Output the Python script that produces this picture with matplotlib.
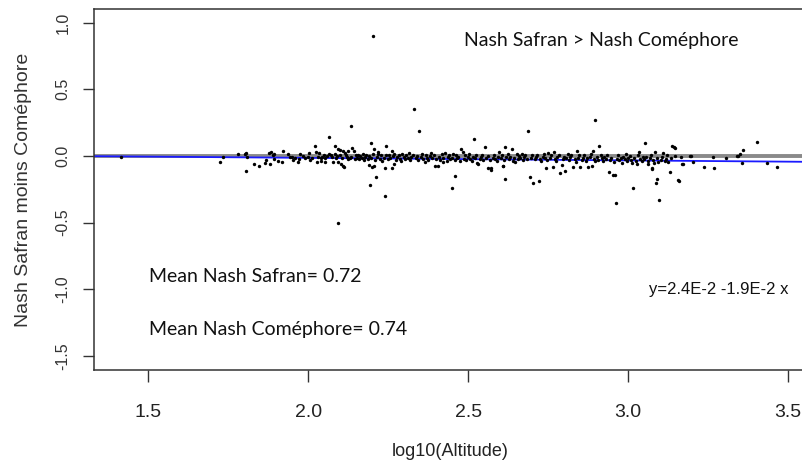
import matplotlib
matplotlib.use("Agg")
import numpy as np
import matplotlib.pyplot as plt

# log10(altitude) and Nash Safran - Nash Comephore
alt_left = [1.415, 1.726, 1.735, 1.782, 1.803, 1.805, 1.81, 1.805, 1.832, 1.847, 1.864, 1.868,
            1.879, 1.884, 1.889, 1.895, 1.88, 1.895, 1.905, 1.92, 1.923, 1.936, 1.942, 1.949,
            1.952, 1.959, 1.968, 1.972, 1.976, 1.983, 1.99, 1.999]
dif_left = [-0.01, -0.047, -0.01, 0.013, 0.013, 0.02, -0.005, -0.11, -0.06, -0.075, -0.05, -0.027,
            0.02, 0.027, 0.008, 0.017, -0.062, -0.02, -0.035, -0.042, 0.035, 0.013, -0.005, -0.01,
            -0.03, -0.018, -0.042, -0.022, 0.017, 0.0, -0.018, -0.008]

alt_200 = [2.003, 2.007, 2.013, 2.022, 2.025, 2.03, 2.029, 2.035, 2.041, 2.041, 2.045, 2.049,
           2.053, 2.053, 2.058, 2.064, 2.066, 2.072, 2.076, 2.079, 2.083, 2.084, 2.088, 2.09,
           2.092, 2.092, 2.095, 2.1, 2.1, 2.103, 2.105, 2.108, 2.108, 2.113, 2.115, 2.118,
           2.121, 2.124, 2.126, 2.131, 2.134, 2.135, 2.137, 2.142, 2.146, 2.149]
dif_200 = [0.022, -0.03, -0.012, 0.072, 0.032, -0.005, -0.047, 0.022, -0.018, -0.037, -0.005, 0.008,
           -0.018, -0.042, 0.0, 0.14, 0.013, 0.005, -0.01, -0.042, 0.012, 0.077, -0.018, -0.002,
           0.052, -0.505, -0.047, 0.045, 0.008, -0.06, -0.015, 0.037, -0.073, -0.08, 0.02, 0.01,
           -0.005, -0.025, 0.04, -0.018, 0.225, -0.008, 0.057, 0.037, -0.02, 0.005]

alt_215 = [2.152, 2.156, 2.16, 2.163, 2.167, 2.171, 2.175, 2.178, 2.182, 2.186, 2.189, 2.19,
           2.194, 2.196, 2.198, 2.2, 2.202, 2.203, 2.207, 2.207, 2.21, 2.212, 2.214, 2.217,
           2.22, 2.224, 2.228, 2.232, 2.236, 2.24, 2.24, 2.244, 2.245, 2.249, 2.253, 2.257,
           2.261, 2.261, 2.265, 2.267, 2.27, 2.274, 2.278, 2.283, 2.287, 2.291, 2.295, 2.299]
dif_215 = [-0.012, 0.01, -0.025, 0.002, -0.018, 0.015, -0.03, -0.005, 0.008, -0.022, -0.068, 0.003,
           -0.217, 0.1, -0.015, -0.08, 0.9, 0.012, 0.052, -0.075, -0.028, -0.16, -0.008, 0.032,
           0.018, -0.02, 0.004, -0.035, -0.012, -0.3, -0.092, 0.077, 0.006, -0.025, 0.01, -0.015,
           0.037, -0.088, -0.002, -0.062, 0.012, -0.028, -0.01, 0.005, -0.02, -0.04, 0.015, -0.008]

alt_230 = [2.303, 2.307, 2.311, 2.315, 2.319, 2.323, 2.327, 2.332, 2.336, 2.34, 2.344, 2.348,
           2.352, 2.356, 2.36, 2.364, 2.368, 2.372, 2.376, 2.38, 2.384, 2.388, 2.392, 2.397,
           2.401, 2.405, 2.409, 2.413, 2.417, 2.421, 2.423, 2.428, 2.433, 2.437, 2.441, 2.445]
dif_230 = [-0.022, 0.004, -0.012, 0.02, -0.03, -0.006, 0.008, 0.35, -0.018, 0.002, -0.028, 0.185,
           -0.01, 0.012, -0.02, -0.045, 0.006, -0.014, -0.03, 0.0, 0.025, -0.018, 0.01, -0.075,
           -0.022, -0.073, -0.004, -0.03, 0.012, -0.015, -0.042, 0.02, -0.037, -0.008, 0.01, -0.025]

alt_245 = [2.449, 2.451, 2.454, 2.458, 2.46, 2.462, 2.466, 2.47, 2.474, 2.478, 2.483, 2.487,
           2.491, 2.495, 2.499, 2.503, 2.507, 2.511, 2.515, 2.517, 2.521, 2.524, 2.527, 2.532,
           2.536, 2.54, 2.544, 2.548, 2.553, 2.557, 2.561, 2.563, 2.567, 2.571, 2.573, 2.577,
           2.581, 2.585, 2.589, 2.593, 2.597]
dif_245 = [-0.012, -0.238, 0.012, -0.03, -0.148, 0.004, -0.018, -0.006, -0.035, 0.052, 0.027, -0.02,
           0.008, -0.028, -0.01, 0.015, -0.022, -0.04, -0.005, 0.13, -0.018, 0.01, -0.05, -0.062,
           -0.025, -0.008, 0.006, -0.032, 0.07, -0.015, 0.002, -0.092, -0.028, -0.092, -0.105, -0.012,
           0.008, -0.02, -0.04, -0.005, 0.032]

alt_260 = [2.602, 2.606, 2.61, 2.61, 2.613, 2.616, 2.616, 2.62, 2.624, 2.628, 2.632, 2.636,
           2.64, 2.644, 2.647, 2.652, 2.656, 2.66, 2.663, 2.667, 2.671, 2.675, 2.679, 2.683,
           2.688, 2.692, 2.696, 2.7, 2.704, 2.708, 2.712, 2.716, 2.721, 2.725, 2.729, 2.733,
           2.737, 2.741, 2.744, 2.748, 2.751]
dif_260 = [-0.015, 0.005, -0.073, -0.075, -0.03, 0.07, -0.172, -0.01, 0.012, -0.022, -0.004, 0.055,
           -0.035, -0.016, -0.042, 0.013, -0.025, 0.002, -0.012, 0.013, -0.03, -0.008, 0.01, -0.02,
           0.187, -0.155, -0.014, 0.004, -0.2, -0.026, -0.01, 0.008, -0.187, -0.022, -0.04, -0.006,
           0.012, -0.018, -0.092, -0.03, 0.02]

alt_275 = [2.755, 2.759, 2.764, 2.767, 2.771, 2.775, 2.779, 2.783, 2.788, 2.793, 2.797, 2.801,
           2.803, 2.807, 2.811, 2.815, 2.819, 2.823, 2.829, 2.833, 2.837, 2.84, 2.844, 2.848,
           2.85, 2.855, 2.859, 2.863, 2.867, 2.871, 2.876, 2.88, 2.884, 2.886, 2.889, 2.893,
           2.897, 2.898]
dif_275 = [-0.012, 0.004, -0.08, 0.027, -0.02, -0.035, -0.008, 0.01, -0.125, -0.068, -0.025, -0.004,
           -0.11, -0.016, 0.012, -0.03, -0.01, 0.006, -0.08, -0.022, -0.042, 0.037, -0.012, 0.004,
           -0.085, -0.028, -0.014, 0.008, -0.035, -0.018, -0.085, -0.006, 0.014, -0.075, 0.04, -0.022,
           -0.04, 0.27]

alt_290 = [2.902, 2.906, 2.91, 2.914, 2.918, 2.922, 2.926, 2.93, 2.934, 2.939, 2.943, 2.947,
           2.952, 2.956, 2.96, 2.961, 2.965, 2.969, 2.973, 2.977, 2.981, 2.985, 2.989, 2.993,
           2.997, 3.001, 3.005, 3.009, 3.013, 3.016, 3.02, 3.024, 3.027, 3.031, 3.034, 3.038,
           3.042, 3.046]
dif_290 = [-0.01, -0.028, 0.077, 0.006, -0.018, -0.036, -0.005, -0.024, 0.01, -0.122, -0.03, -0.012,
           -0.142, -0.045, -0.142, -0.355, -0.02, 0.004, -0.032, -0.014, -0.05, -0.008, -0.026, 0.012,
           -0.038, -0.018, -0.002, -0.03, -0.055, -0.243, -0.012, -0.034, -0.062, 0.004, 0.027, -0.022,
           -0.04, -0.01]

alt_305 = [3.05, 3.053, 3.057, 3.061, 3.063, 3.067, 3.071, 3.074, 3.076, 3.079, 3.082, 3.084,
           3.087, 3.089, 3.091, 3.095, 3.098, 3.102, 3.106, 3.11, 3.114, 3.118, 3.122, 3.126,
           3.13, 3.134, 3.138, 3.142, 3.147, 3.147]
dif_305 = [-0.025, 0.095, -0.008, -0.035, -0.062, -0.015, 0.006, -0.092, -0.1, -0.028, -0.05, 0.032,
           -0.205, -0.175, -0.012, -0.047, -0.33, -0.03, -0.01, 0.02, -0.038, -0.02, 0.008, -0.044,
           -0.12, -0.015, 0.075, 0.07, 0.062, 0.0]

alt_right = [3.157, 3.16, 3.166, 3.17, 3.173, 3.194, 3.197, 3.202, 3.236, 3.265, 3.267, 3.306,
             3.34, 3.345, 3.35, 3.357, 3.36, 3.402, 3.433, 3.464]
dif_right = [-0.18, -0.185, -0.01, -0.06, -0.062, 0.0, 0.0, -0.047, -0.085, -0.005, -0.092, -0.018,
             0.0, 0.002, 0.015, -0.055, 0.045, 0.105, -0.05, -0.085]

alt = np.concatenate([alt_left, alt_200, alt_215, alt_230, alt_245, alt_260,
                      alt_275, alt_290, alt_305, alt_right])
dif = np.concatenate([dif_left, dif_200, dif_215, dif_230, dif_245, dif_260,
                      dif_275, dif_290, dif_305, dif_right])

# regression line as printed on the chart
intercept, slope = 2.4e-2, -1.9e-2

yticks = [-1.5, -1.0, -0.5, 0.0, 0.5, 1.0]
xticks = [1.5, 2.0, 2.5, 3.0, 3.5]

arial = ["Liberation Sans", "DejaVu Sans"]
calibri = ["Lato", "DejaVu Sans"]

fig = plt.figure(figsize=(8.02, 4.68), dpi=100)
ax = fig.add_axes([94/802, 1 - 370/468, 712/802, 361/468])

ax.axhline(0, color="#8a8a8a", lw=2.8, zorder=1)
ax.axline((0, intercept), slope=slope, color="#1a1aff", lw=1.3, zorder=2)
ax.scatter(alt, dif, s=6, color="black", linewidths=0, zorder=3)

ax.set_xlim(1.331, 3.556)
ax.set_ylim(-1.605, 1.1025)

for sp in ax.spines.values():
    sp.set_linewidth(1.1)
    sp.set_color("#333333")

ax.set_yticks(yticks)
ax.set_yticklabels([f"{v:.1f}" for v in yticks], rotation=90, va="center",
                   fontfamily=arial, fontsize=11.5, color="#333333")
ax.tick_params(axis="y", length=8, width=1.0, pad=9, color="#333333")

ax.set_xticks(xticks)
ax.set_xticklabels([f"{v:.1f}" for v in xticks], fontfamily=arial, fontsize=14, color="#222222")
ax.tick_params(axis="x", length=8.5, width=1.0, pad=16, color="#333333")

ax.set_ylabel("Nash Safran moins Coméphore", fontfamily=arial, fontsize=14,
              color="#333333", labelpad=17)
ax.set_xlabel("log10(Altitude)", fontfamily=arial, fontsize=13, color="#222222", labelpad=16)

ax.text(0.5203, 0.912, "Nash Safran > Nash Coméphore", transform=ax.transAxes,
        fontfamily=calibri, fontsize=14, va="center", ha="left", color="#111111")
ax.text(0.077, 0.26, "Mean Nash Safran= 0.72", transform=ax.transAxes,
        fontfamily=calibri, fontsize=14, va="center", ha="left", color="#111111")
ax.text(0.077, 0.112, "Mean Nash Coméphore= 0.74", transform=ax.transAxes,
        fontfamily=calibri, fontsize=14, va="center", ha="left", color="#111111")
ax.text(0.779, 0.222, "y=2.4E-2 -1.9E-2 x", transform=ax.transAxes,
        fontfamily=arial, fontsize=12, va="center", ha="left", color="#111111")

fig.savefig("out.png", dpi=100)
